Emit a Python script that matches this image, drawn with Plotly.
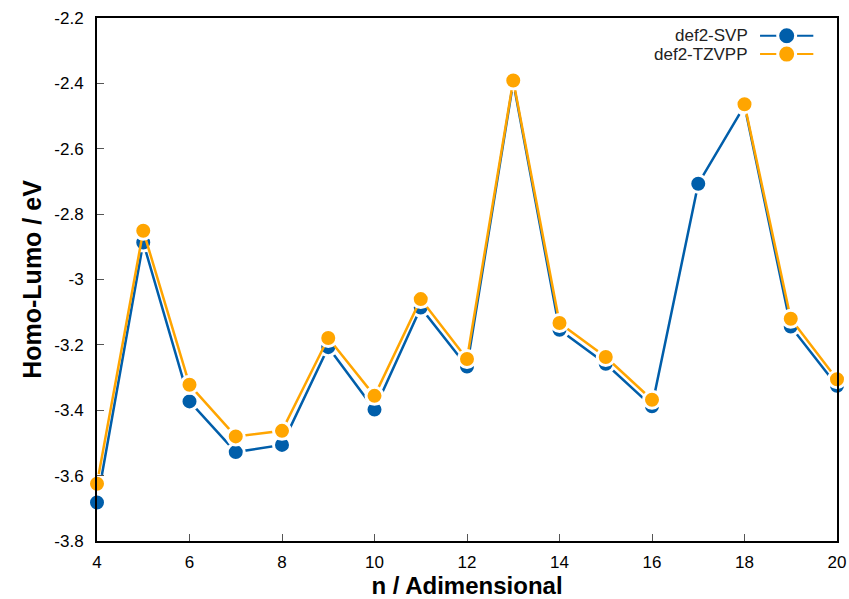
import plotly.graph_objects as go

# HOMO-LUMO gap vs n for two basis sets
n_values = [4, 5, 6, 7, 8, 9, 10, 11, 12, 13, 14, 15, 16, 17, 18, 19, 20]
svp = [-3.682, -2.887, -3.373, -3.528, -3.506, -3.207, -3.398, -3.086, -3.266,
       -2.396, -3.154, -3.258, -3.388, -2.707, -2.468, -3.144, -3.325]
tzvpp = [-3.625, -2.851, -3.322, -3.480, -3.463, -3.179, -3.356, -3.060, -3.243,
         -2.391, -3.133, -3.237, -3.368, None, -2.464, -3.120, -3.305]

series_names = ["def2-SVP", "def2-TZVPP"]
series_colors = ["#005eaa", "#ffa500"]

y_ticks = [-3.8, -3.6, -3.4, -3.2, -3.0, -2.8, -2.6, -2.4, -2.2]
y_tick_text = ["-3.8", "-3.6", "-3.4", "-3.2", "-3", "-2.8", "-2.6", "-2.4", "-2.2"]
x_ticks = [4, 6, 8, 10, 12, 14, 16, 18, 20]

FONT = "Liberation Sans, Arial, sans-serif"

fig = go.Figure()
for name, ys, color in zip(series_names, [svp, tzvpp], series_colors):
    fig.add_trace(go.Scatter(
        x=n_values, y=ys, name=name, mode="lines+markers",
        connectgaps=False, showlegend=False, cliponaxis=False,
        line=dict(color=color, width=2.5),
        marker=dict(symbol="circle", size=17, color=color,
                    line=dict(color="white", width=3)),
    ))

# Legend drawn in the upper-right corner: label, then line with a marker
legend_rows = [0.966, 0.931]
shapes = []
annotations = []
for name, color, yr in zip(series_names, series_colors, legend_rows):
    shapes.append(dict(type="line", xref="paper", yref="paper",
                       x0=0.896, x1=0.968, y0=yr, y1=yr,
                       line=dict(color=color, width=2)))
    shapes.append(dict(type="circle", xref="paper", yref="paper",
                       xsizemode="pixel", ysizemode="pixel",
                       xanchor=0.932, yanchor=yr,
                       x0=-9, x1=9, y0=-9, y1=9,
                       fillcolor=color, line=dict(color="white", width=3)))
    annotations.append(dict(xref="paper", yref="paper", x=0.882, y=yr,
                            text=name, showarrow=False, xanchor="right",
                            yanchor="middle",
                            font=dict(family=FONT, size=17, color="#222")))

fig.update_layout(
    width=849, height=599, autosize=False,
    margin=dict(l=97, r=12, t=18, b=58, autoexpand=False),
    paper_bgcolor="white", plot_bgcolor="white",
    font=dict(family=FONT, size=17, color="black"),
    shapes=shapes, annotations=annotations,
    xaxis=dict(
        range=[4, 20], tickvals=x_ticks, ticks="inside", ticklen=7,
        tickcolor="#555", showgrid=False, zeroline=False, automargin=False,
        ticklabelstandoff=5,
        showline=True, mirror=True, linecolor="black", linewidth=2,
        title=dict(text="<b>n / Adimensional</b>", font=dict(size=24),
                   standoff=6),
    ),
    yaxis=dict(
        range=[-3.8, -2.2], tickvals=y_ticks, ticktext=y_tick_text,
        ticks="inside", ticklen=7, tickcolor="#555", automargin=False,
        ticklabelstandoff=8,
        showgrid=False, zeroline=False,
        showline=True, mirror=True, linecolor="black", linewidth=2,
        title=dict(text="<b>Homo-Lumo / eV</b>", font=dict(size=25),
                   standoff=6),
    ),
)

fig.write_html("out.html")
